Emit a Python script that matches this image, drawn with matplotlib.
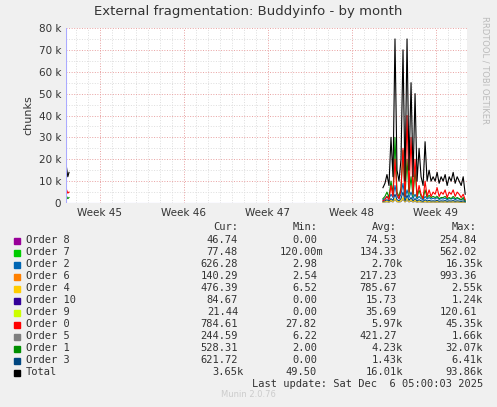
import numpy as np
import matplotlib.pyplot as plt

# time axis in days from left edge of the plot
week_ticks = [2.8, 9.8, 16.8, 23.8, 30.8]
week_labels = ['Week 45', 'Week 46', 'Week 47', 'Week 48', 'Week 49']

early_t = [0.05, 0.15, 0.25]
early_total = [16000, 12000, 14000]
early_red = [6000, 4500, 5000]
early_green = [3000, 2000, 2500]

total = [7000, 9000, 13000, 8000, 30000, 12000, 75000, 15000, 10000, 20000, 70000, 10000,
         75000, 15000, 55000, 12000, 50000, 10000, 25000, 12000, 8000, 28000, 10000, 15000,
         10000, 12000, 10000, 14000, 9000, 12000, 10000, 13000, 8000, 12000, 10000, 14000,
         9000, 12000, 10000, 8000, 12000, 4000]
order0 = [1000, 1500, 3000, 1500, 8000, 3000, 20000, 4000, 2000, 6000, 25000, 3000,
          40000, 5000, 30000, 4000, 20000, 3000, 8000, 4000, 2000, 10000, 3000, 6000,
          3000, 5000, 4000, 7000, 3000, 5000, 4000, 6000, 2500, 5000, 4000, 6000,
          3000, 5000, 4000, 2500, 4000, 1500]
order1 = [2000, 3000, 5000, 2500, 10000, 4000, 30000, 5000, 3000, 7000, 24000, 3000,
          20000, 4000, 12000, 3000, 15000, 2500, 6000, 3000, 2000, 6000, 2500, 3500,
          2500, 3000, 2500, 3000, 2000, 2500, 2500, 3000, 2000, 2500, 2000, 3000,
          2000, 2500, 2000, 1500, 2500, 1000]
order2 = [1500, 2000, 3000, 1800, 4000, 2500, 8000, 3000, 2000, 4000, 9000, 2000,
          6000, 2500, 5000, 2000, 4000, 1800, 3000, 2000, 1500, 3000, 1800, 2500,
          1800, 2200, 1800, 2500, 1600, 2000, 1800, 2200, 1500, 2000, 1800, 2200,
          1500, 2000, 1800, 1400, 2000, 800]
order3 = [800, 1000, 1500, 900, 2000, 1200, 4000, 1500, 1000, 2000, 5000, 1000,
          3500, 1200, 2500, 1000, 2000, 900, 1500, 1000, 800, 1500, 900, 1200,
          900, 1000, 900, 1200, 800, 1000, 900, 1100, 800, 1000, 900, 1100,
          800, 1000, 900, 700, 1000, 600]
order4 = [500, 600, 900, 500, 1200, 700, 2000, 800, 600, 1000, 2500, 600,
          2000, 700, 1500, 600, 1200, 500, 900, 600, 500, 900, 500, 700,
          500, 600, 500, 700, 500, 600, 500, 600, 500, 600, 500, 600,
          500, 600, 500, 400, 600, 480]
order5 = [300, 400, 500, 300, 800, 400, 1500, 500, 400, 600, 1600, 400,
          1200, 400, 900, 400, 700, 300, 500, 400, 300, 500, 300, 400,
          300, 400, 300, 400, 300, 400, 300, 400, 300, 400, 300, 400,
          300, 400, 300, 250, 350, 245]

series = [('Order 5', order5, '#7f7f7f'), ('Order 4', order4, '#ffcc00'),
          ('Order 3', order3, '#00467f'), ('Order 2', order2, '#0066b3'),
          ('Order 1', order1, '#008f00'), ('Order 0', order0, '#ff0000'),
          ('Total', total, '#000000')]

legend_rows = [
    ('Order 8', '#990099', '46.74', '0.00', '74.53', '254.84'),
    ('Order 7', '#00cc00', '77.48', '120.00m', '134.33', '562.02'),
    ('Order 2', '#0066b3', '626.28', '2.98', '2.70k', '16.35k'),
    ('Order 6', '#ff8000', '140.29', '2.54', '217.23', '993.36'),
    ('Order 4', '#ffcc00', '476.39', '6.52', '785.67', '2.55k'),
    ('Order 10', '#330099', '84.67', '0.00', '15.73', '1.24k'),
    ('Order 9', '#ccff00', '21.44', '0.00', '35.69', '120.61'),
    ('Order 0', '#ff0000', '784.61', '27.82', '5.97k', '45.35k'),
    ('Order 5', '#7f7f7f', '244.59', '6.22', '421.27', '1.66k'),
    ('Order 1', '#008f00', '528.31', '2.00', '4.23k', '32.07k'),
    ('Order 3', '#00467f', '621.72', '0.00', '1.43k', '6.41k'),
    ('Total', '#000000', '3.65k', '49.50', '16.01k', '93.86k'),
]

fig = plt.figure(figsize=(4.97, 4.07), dpi=100, facecolor='#f0f0f0')
ax = fig.add_axes([66/497, 1-203/407, 401/497, 175/407])
ax.set_facecolor('white')
t = np.linspace(26.4, 33.25, len(total))
for name, vals, col in series:
    ax.plot(t, vals, color=col, lw=0.8)
ax.plot(early_t, early_total, color='black', lw=0.8)
ax.plot(early_t, early_red, color='#ff0000', lw=0.8)
ax.plot(early_t, early_green, color='#008f00', lw=0.8)

ax.set_xlim(0, 33.4)
ax.set_ylim(0, 80000)
ax.set_yticks(np.arange(0, 80001, 10000))
ax.set_yticklabels(['0'] + ['%d k' % v for v in range(10, 81, 10)], fontsize=7.5, color='#333333')
ax.set_xticks(week_ticks)
ax.set_xticklabels(week_labels, fontsize=7.5, color='#333333')
ax.set_xticks(np.arange(0.8, 33.4, 1), minor=True)
ax.set_yticks(np.arange(5000, 80000, 10000), minor=True)
ax.tick_params(length=0, which='both')
ax.grid(True, which='minor', color='#dddddd', ls=':', lw=0.7)
ax.grid(True, which='major', axis='y', color='#e8a0a0', ls=':', lw=0.7)
ax.grid(True, which='major', axis='x', color='#e8a0a0', ls=':', lw=0.7)
for s in ax.spines.values():
    s.set_visible(False)
ax.axhline(0, color='#aaaaff', lw=0.8)
ax.axvline(0, color='#aaaaff', lw=0.8)
ax.set_ylabel('chunks', fontsize=8, color='#333333')

fig.text(0.5, 1-12/407, 'External fragmentation: Buddyinfo - by month', ha='center',
         va='center', fontsize=9.5, color='#333333')
fig.text(1-12/497, 1-70/407, 'RRDTOOL / TOBI OETIKER', rotation=270, ha='center',
         va='center', fontsize=6, color='#bbbbbb')

mono = 'DejaVu Sans Mono'
fs = 7.5
y0 = 245
fig.text(238/497, 1-(y0-13)/407, 'Cur:', ha='right', fontsize=fs, family=mono, color='#333333', va='bottom')
fig.text(318/497, 1-(y0-13)/407, 'Min:', ha='right', fontsize=fs, family=mono, color='#333333', va='bottom')
fig.text(397/497, 1-(y0-13)/407, 'Avg:', ha='right', fontsize=fs, family=mono, color='#333333', va='bottom')
fig.text(477/497, 1-(y0-13)/407, 'Max:', ha='right', fontsize=fs, family=mono, color='#333333', va='bottom')
for i, (name, col, cur, mn, avg, mx) in enumerate(legend_rows):
    y = 1 - (y0 + i * 12) / 407
    fig.patches.append(plt.Rectangle((14/497, y + 0.002), 6/497, 6/407, color=col,
                                     transform=fig.transFigure))
    fig.text(26/497, y, name, fontsize=fs, family=mono, color='#333333', va='bottom')
    for x, v in [(244, cur), (323, mn), (403, avg), (483, mx)]:
        xx = x if v.endswith(('k', 'm')) else x - 6
        fig.text(xx/497, y, v, ha='right', fontsize=fs, family=mono, color='#333333', va='bottom')
fig.text(483/497, 1-(y0+12*12)/407, 'Last update: Sat Dec  6 05:00:03 2025', ha='right',
         fontsize=fs, family=mono, color='#333333', va='bottom')
fig.text(248/497, 1-397/407, 'Munin 2.0.76', ha='center', fontsize=6, color='#cccccc')

fig.savefig('out.png', dpi=100, facecolor=fig.get_facecolor())
